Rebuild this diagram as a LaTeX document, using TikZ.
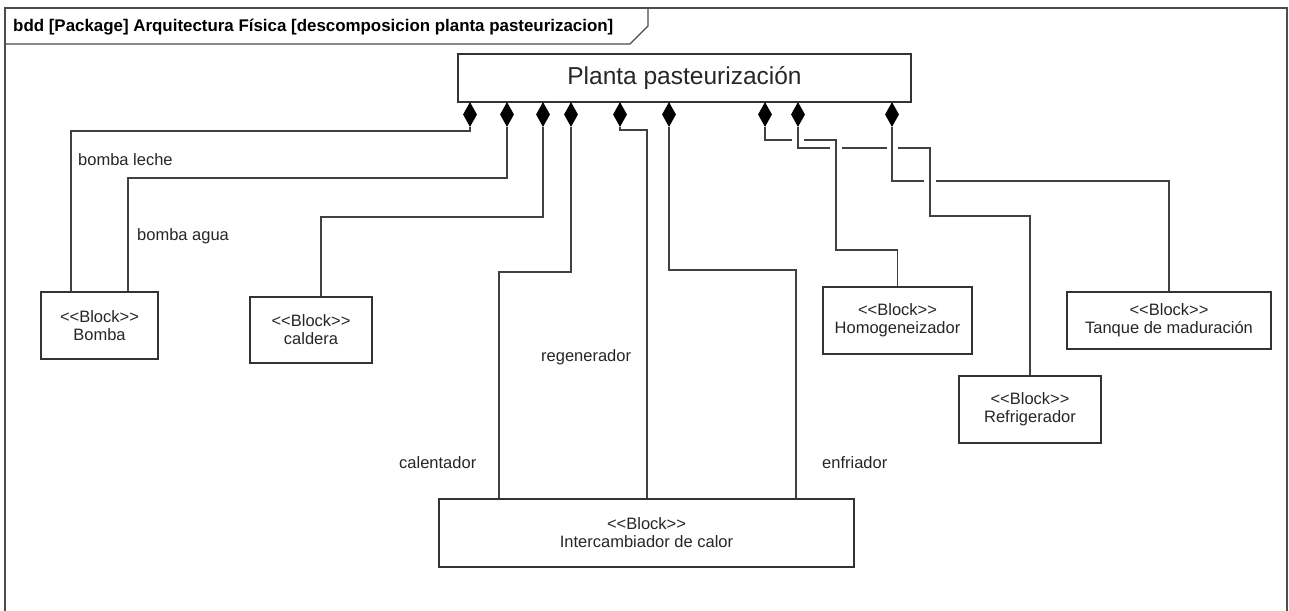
\documentclass[tikz,border=0pt]{standalone}
\usepackage{fontspec}
\setmainfont{Liberation Sans}
\usetikzlibrary{shapes.geometric}

% stereotype label, kerned so that << and >> stay two characters each
\newcommand\blk{<\kern0pt<Block>\kern0pt>}

\begin{document}
\begin{tikzpicture}[x=1pt,y=-1pt,
  conn/.style={draw=black!75, line width=1.2pt},
  block/.style={draw=black!80, line width=1.3pt, fill=white, align=center,
    inner sep=0pt, font=\fontsize{16.5}{18}\selectfont, text=black!85},
  comp/.style={diamond, fill=black, draw=none, inner sep=0pt,
    minimum width=14pt, minimum height=25pt},
  role/.style={anchor=west, inner sep=0pt, font=\fontsize{16.5}{18}\selectfont, text=black!85},
  framepen/.style={draw=black!70, line width=1.6pt},
]
\useasboundingbox (0,0) rectangle (1289,610);

% diagram frame and its name tab
\draw[framepen] (5,640) -- (5,8) -- (1287,8) -- (1287,640);
\draw[framepen, line width=1.3pt] (5,44) -- (630,44) -- (648,26) -- (648,8);
\node[anchor=west, inner sep=0pt, font=\bfseries\fontsize{16.9}{18}\selectfont] (title) at (13,27)
  {bdd [Package] Arquitectura Física [descomposicion planta pasteurizacion]};

% whole system
\node[block, font=\fontsize{24.5}{28}\selectfont, minimum width=453pt, minimum height=48pt]
  (planta) at (684.5,78) {Planta pasteurización};

% parts
\node[block, minimum width=117pt, minimum height=67pt] (bomba)   at (99.5,325.5)  {\blk\\Bomba};
\node[block, minimum width=122pt, minimum height=66pt] (caldera) at (311,330)     {\blk\\caldera};
\node[block, minimum width=149pt, minimum height=67pt] (homog)   at (897.5,320.5) {\blk\\Homogeneizador};
\node[block, minimum width=142pt, minimum height=67pt] (refrig)  at (1030,409.5)  {\blk\\Refrigerador};
\node[block, minimum width=204pt, minimum height=57pt] (tanque)  at (1169,320.5)  {\blk\\Tanque de maduración};
\node[block, minimum width=415pt, minimum height=68pt] (interc)  at (646.5,533)   {\blk\\Intercambiador de calor};

% composition diamonds on the owner
\foreach \i/\x in {1/470,2/507,3/543,4/571,5/620,6/669,7/765,8/798,9/892}
  \node[comp] (dm\i) at (\x,114.5) {};

% composition links
\draw[conn] (dm1.south) |- (71,131) -- (71,131 |- bomba.north);
\draw[conn] (dm2.south) |- (128,178) -- (128,178 |- bomba.north);
\draw[conn] (dm3.south) |- (321,217) -- (321,217 |- caldera.north);
\draw[conn] (dm4.south) |- (499,272) -- (499,272 |- interc.north);
\draw[conn] (dm5.south) |- (647,130) -- (647,130 |- interc.north);
\draw[conn] (dm6.south) |- (796,270) -- (796,270 |- interc.north);
% links that hop over crossing lines
\draw[conn] (dm7.south) |- (792,140);
\draw[conn] (804,140) -| (836,250) -| (homog.north);
\draw[conn] (dm8.south) |- (830,148);
\draw[conn] (842,148) -- (887,148);
\draw[conn] (898,148) -| (930,216) -| (refrig.north);
\draw[conn] (dm9.south) |- (924,181);
\draw[conn] (936,181) -| (tanque.north);

% role names
\node[role] (rleche) at (78,160)  {bomba leche};
\node[role] (ragua)  at (137,236) {bomba agua};
\node[role] (rregen) at (541,357) {regenerador};
\node[role] (rcal)   at (399,463) {calentador};
\node[role] (renf)   at (822,463) {enfriador};
\end{tikzpicture}
\end{document}
